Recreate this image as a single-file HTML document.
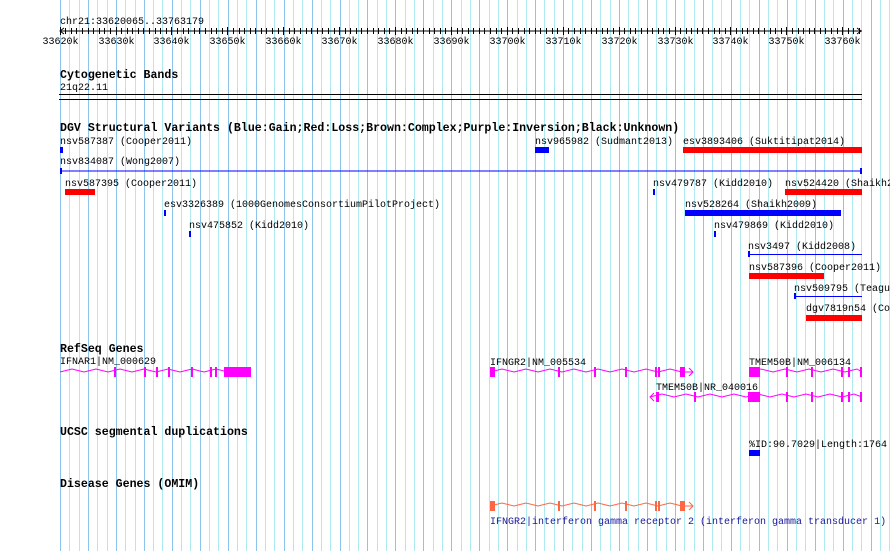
<!DOCTYPE html>
<html><head><meta charset="utf-8"><style>
html,body{margin:0;padding:0;background:#fff;width:890px;height:551px;overflow:hidden}
svg text{font-family:"Liberation Mono","DejaVu Sans Mono",monospace;font-size:10px;fill:#000}
svg text.t{font-weight:bold;font-size:11.6px}
</style></head><body>
<svg id="s" width="890" height="551" xmlns="http://www.w3.org/2000/svg">
<g id="grid"></g>
<text x="60" y="24">chr21:33620065..33763179</text>
<line x1="60" y1="31" x2="862" y2="31" stroke="#000"/>
<g id="ticks"></g>
<text class="t" x="60" y="78">Cytogenetic Bands</text>
<text x="60" y="90">21q22.11</text>
<line x1="59" y1="94.5" x2="862" y2="94.5" stroke="#000"/>
<line x1="59" y1="99.5" x2="862" y2="99.5" stroke="#000"/>
<text class="t" x="60" y="131">DGV Structural Variants (Blue:Gain;Red:Loss;Brown:Complex;Purple:Inversion;Black:Unknown)</text>
<text x="60" y="144">nsv587387 (Cooper2011)</text>
<rect x="60" y="147" width="3" height="6" fill="#0000ff"/>
<text x="535" y="144">nsv965982 (Sudmant2013)</text>
<rect x="535" y="147" width="14" height="6" fill="#0000ff"/>
<text x="683" y="144">esv3893406 (Suktitipat2014)</text>
<rect x="683" y="147" width="179" height="6" fill="#ff0000"/>
<text x="60" y="164">nsv834087 (Wong2007)</text>
<rect x="60" y="170.5" width="802" height="1" fill="#0000ff"/>
<rect x="60" y="168" width="2" height="6" fill="#0000ff"/>
<rect x="860" y="168" width="2" height="6" fill="#0000ff"/>
<text x="65" y="186">nsv587395 (Cooper2011)</text>
<rect x="65" y="189" width="30" height="6" fill="#ff0000"/>
<text x="653" y="186">nsv479787 (Kidd2010)</text>
<rect x="653" y="189" width="2" height="6" fill="#0000ff"/>
<text x="785" y="186">nsv524420 (Shaikh2009)</text>
<rect x="785" y="189" width="77" height="6" fill="#ff0000"/>
<text x="164" y="207">esv3326389 (1000GenomesConsortiumPilotProject)</text>
<rect x="164" y="210" width="2" height="6" fill="#0000ff"/>
<text x="685" y="207">nsv528264 (Shaikh2009)</text>
<rect x="685" y="210" width="156" height="6" fill="#0000ff"/>
<text x="189" y="228">nsv475852 (Kidd2010)</text>
<rect x="189" y="231" width="2" height="6" fill="#0000ff"/>
<text x="714" y="228">nsv479869 (Kidd2010)</text>
<rect x="714" y="231" width="2" height="6" fill="#0000ff"/>
<text x="748" y="249">nsv3497 (Kidd2008)</text>
<rect x="748" y="254" width="114" height="1" fill="#0000ff"/>
<rect x="748" y="251" width="2" height="6" fill="#0000ff"/>
<text x="749" y="270">nsv587396 (Cooper2011)</text>
<rect x="749" y="273" width="75" height="6" fill="#ff0000"/>
<text x="794" y="291">nsv509795 (Teague2010)</text>
<rect x="794" y="296" width="68" height="1" fill="#0000ff"/>
<rect x="794" y="293" width="2" height="6" fill="#0000ff"/>
<text x="806" y="311">dgv7819n54 (Conrad2009)</text>
<rect x="806" y="315" width="56" height="6" fill="#ff0000"/>

<text class="t" x="60" y="352">RefSeq Genes</text>
<text x="60" y="364">IFNAR1|NM_000629</text>
<text x="490" y="365">IFNGR2|NM_005534</text>
<text x="749" y="365">TMEM50B|NM_006134</text>
<text x="656" y="390">TMEM50B|NR_040016</text>
<g id="genes"></g>

<text class="t" x="60" y="435">UCSC segmental duplications</text>
<text x="749" y="447">%ID:90.7029|Length:1764</text>
<rect x="749" y="450" width="11" height="6" fill="#0000ff"/>
<text class="t" x="60" y="487">Disease Genes (OMIM)</text>
<text x="490" y="524" style="fill:#1a1a99">IFNGR2|interferon gamma receptor 2 (interferon gamma transducer 1)</text>
</svg>
<script>
var NS="http://www.w3.org/2000/svg";
function el(p,n,a){var e=document.createElementNS(NS,n);for(var k in a)e.setAttribute(k,a[k]);p.appendChild(e);return e;}
var g=document.getElementById('grid');
var px=55.9/10;
for(var i=0;i<=90;i++){var x=Math.round(60+i*px*10/6)+0.5;if(x>890)break;
 var dark=(i%3==0);el(g,'line',{x1:x,y1:0,x2:x,y2:551,stroke:dark?'#8cc4ec':'#aeeaf0','stroke-width':1});}
var t=document.getElementById('ticks');
for(var k=0;k<=143;k++){var x=Math.round(60+(k*1000-65)*0.00559)+0.5;if(x<60||x>862)continue;
 var big=(k%10==0);el(t,'line',{x1:x,y1:big?27:28,x2:x,y2:big?35:34,stroke:'#000'});
 if(big){var tx=el(t,'text',{x:x,y:44,'text-anchor':'middle'});tx.textContent=(33620+k)+'k';}}
el(t,'path',{d:'M64 28 L60 31 L64 34 M857 28 L861 31 L857 34',stroke:'#000',fill:'none'});
var G=document.getElementById('genes');
function gene(x1,x2,y,col,exons,arrow){
 var d='M'+x1+' '+y;var step=12,up=true;
 for(var x=x1+step;x<x2;x+=step){d+=' L'+x+' '+(up?y-3:y);up=!up;}
 d+=' L'+x2+' '+y;
 el(G,'path',{d:d,stroke:col,fill:'none','stroke-width':1});
 exons.forEach(function(e){el(G,'rect',{x:e[0],y:y-5,width:e[1],height:10,fill:col});});
 if(arrow==1)el(G,'path',{d:'M'+(x2-4)+' '+(y-4)+' L'+x2+' '+y+' L'+(x2-4)+' '+(y+4),stroke:col,fill:'none'});
 if(arrow==-1)el(G,'path',{d:'M'+(x1+4)+' '+(y-4)+' L'+x1+' '+y+' L'+(x1+4)+' '+(y+4),stroke:col,fill:'none'});
}
gene(60,251,372,'#ff00ff',[[114,2],[144,2],[156,2],[168,2],[191,2],[210,2],[215,2],[224,27]],0);
gene(490,693,372,'#ff00ff',[[490,5],[558,2],[594,2],[625,2],[655,2],[658,2],[680,5]],1);
gene(749,862,372,'#ff00ff',[[749,11],[786,2],[811,2],[841,2],[848,2],[860,2]],0);
gene(650,862,397,'#ff00ff',[[656,3],[694,2],[748,12],[786,2],[811,2],[841,2],[848,2],[860,2]],-1);
gene(490,693,506,'#ff6644',[[490,5],[558,2],[594,2],[625,2],[655,2],[658,2],[680,5]],1);
</script>
</body></html>
